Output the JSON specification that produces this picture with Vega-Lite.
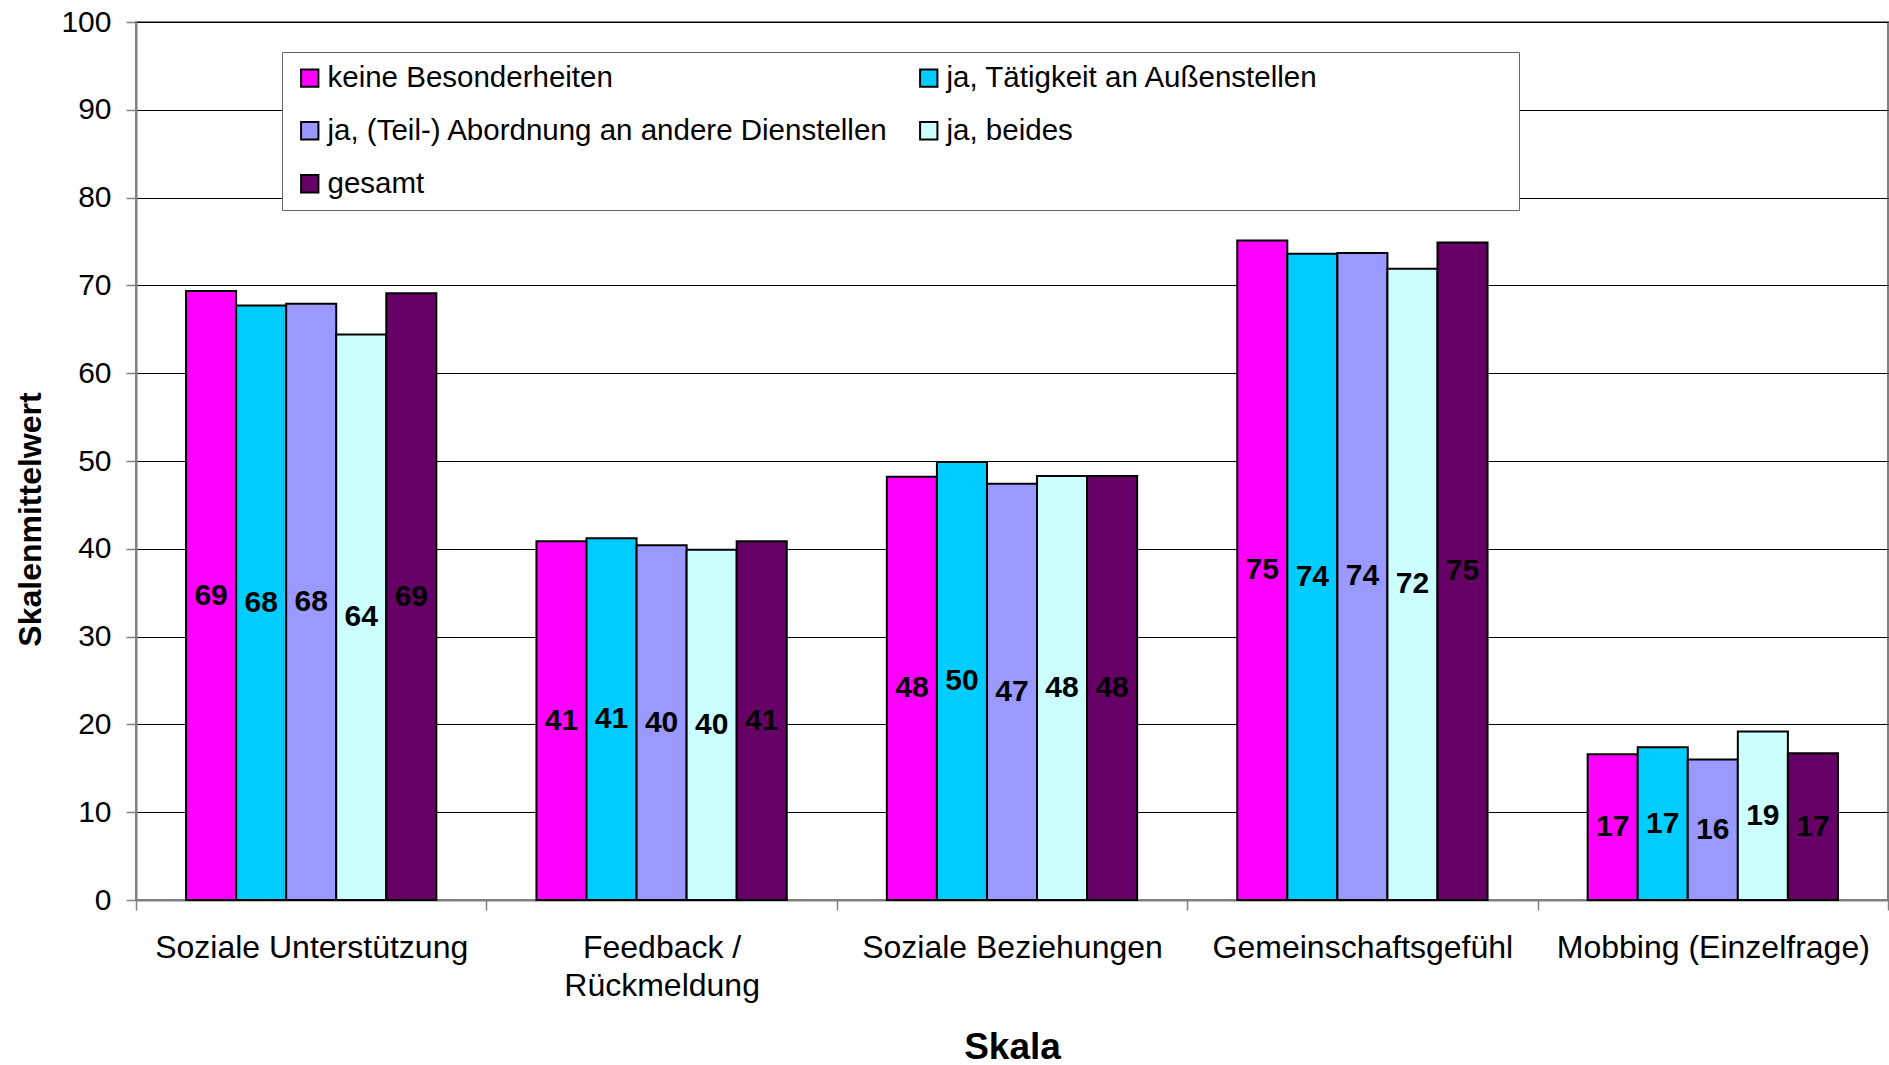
{
  "$schema": "https://vega.github.io/schema/vega-lite/v6.json",
  "width": 1752,
  "height": 878,
  "autosize": {"type": "none"},
  "padding": {"left": 136, "top": 22, "right": 1, "bottom": 165},
  "background": "white",
  "config": {"font": "Liberation Sans", "view": {"stroke": "#808080", "strokeWidth": 2}},
  "data": {"values": [
    {"skala": "Soziale Unterstützung", "gruppe": "keine Besonderheiten", "wert": 69.36},
    {"skala": "Soziale Unterstützung", "gruppe": "ja, Tätigkeit an Außenstellen", "wert": 67.7},
    {"skala": "Soziale Unterstützung", "gruppe": "ja, (Teil-) Abordnung an andere Dienstellen", "wert": 67.9},
    {"skala": "Soziale Unterstützung", "gruppe": "ja, beides", "wert": 64.4},
    {"skala": "Soziale Unterstützung", "gruppe": "gesamt", "wert": 69.1},
    {"skala": "Feedback / Rückmeldung", "gruppe": "keine Besonderheiten", "wert": 40.85},
    {"skala": "Feedback / Rückmeldung", "gruppe": "ja, Tätigkeit an Außenstellen", "wert": 41.2},
    {"skala": "Feedback / Rückmeldung", "gruppe": "ja, (Teil-) Abordnung an andere Dienstellen", "wert": 40.4},
    {"skala": "Feedback / Rückmeldung", "gruppe": "ja, beides", "wert": 39.9},
    {"skala": "Feedback / Rückmeldung", "gruppe": "gesamt", "wert": 40.85},
    {"skala": "Soziale Beziehungen", "gruppe": "keine Besonderheiten", "wert": 48.2},
    {"skala": "Soziale Beziehungen", "gruppe": "ja, Tätigkeit an Außenstellen", "wert": 49.9},
    {"skala": "Soziale Beziehungen", "gruppe": "ja, (Teil-) Abordnung an andere Dienstellen", "wert": 47.4},
    {"skala": "Soziale Beziehungen", "gruppe": "ja, beides", "wert": 48.3},
    {"skala": "Soziale Beziehungen", "gruppe": "gesamt", "wert": 48.3},
    {"skala": "Gemeinschaftsgefühl", "gruppe": "keine Besonderheiten", "wert": 75.1},
    {"skala": "Gemeinschaftsgefühl", "gruppe": "ja, Tätigkeit an Außenstellen", "wert": 73.6},
    {"skala": "Gemeinschaftsgefühl", "gruppe": "ja, (Teil-) Abordnung an andere Dienstellen", "wert": 73.7},
    {"skala": "Gemeinschaftsgefühl", "gruppe": "ja, beides", "wert": 71.9},
    {"skala": "Gemeinschaftsgefühl", "gruppe": "gesamt", "wert": 74.9},
    {"skala": "Mobbing (Einzelfrage)", "gruppe": "keine Besonderheiten", "wert": 16.6},
    {"skala": "Mobbing (Einzelfrage)", "gruppe": "ja, Tätigkeit an Außenstellen", "wert": 17.4},
    {"skala": "Mobbing (Einzelfrage)", "gruppe": "ja, (Teil-) Abordnung an andere Dienstellen", "wert": 16.0},
    {"skala": "Mobbing (Einzelfrage)", "gruppe": "ja, beides", "wert": 19.2},
    {"skala": "Mobbing (Einzelfrage)", "gruppe": "gesamt", "wert": 16.7}
  ]},
  "layer": [
    {
      "mark": {"type": "bar", "stroke": "black", "strokeWidth": 2},
      "encoding": {
        "x": {
          "field": "skala", "type": "nominal",
          "sort": ["Soziale Unterstützung", "Feedback / Rückmeldung", "Soziale Beziehungen", "Gemeinschaftsgefühl", "Mobbing (Einzelfrage)"],
          "scale": {"paddingInner": 0, "paddingOuter": 0},
          "axis": {
            "title": "Skala", "labelAngle": 0, "labelFontSize": 32, "labelColor": "black",
            "labelPadding": 22, "labelLineHeight": 38, "labelBaseline": "top", "labelLimit": 500, "labelOverlap": false,
            "labelExpr": "datum.value == 'Feedback / Rückmeldung' ? ['Feedback /', 'Rückmeldung'] : datum.label",
            "tickBand": "extent", "tickSize": 10, "tickColor": "#808080", "tickWidth": 1.5,
            "domainColor": "#808080", "domainWidth": 2,
            "titleFontSize": 37, "titleFontWeight": "bold", "titleColor": "black",
            "titleY": 158, "titleBaseline": "alphabetic"
          }
        },
        "xOffset": {
          "field": "gruppe", "type": "nominal",
          "sort": ["keine Besonderheiten", "ja, Tätigkeit an Außenstellen", "ja, (Teil-) Abordnung an andere Dienstellen", "ja, beides", "gesamt"],
          "scale": {"paddingInner": 0, "paddingOuter": 1}
        },
        "y": {
          "field": "wert", "type": "quantitative",
          "scale": {"domain": [0, 100], "nice": false},
          "axis": {
            "title": "Skalenmittelwert", "values": [0, 10, 20, 30, 40, 50, 60, 70, 80, 90, 100],
            "grid": true, "gridColor": "#000000", "gridWidth": 1, "gridOpacity": 1,
            "domainColor": "#808080", "domainWidth": 2, "tickColor": "#808080", "tickWidth": 1.5, "tickSize": 10,
            "labelFontSize": 30, "labelColor": "black", "labelPadding": 15,
            "titleFontSize": 32, "titleFontWeight": "bold", "titleColor": "black",
            "titleX": -106, "titleY": 497, "titleBaseline": "middle", "titleAlign": "center", "titleAngle": -90
          }
        },
        "color": {
          "field": "gruppe", "type": "nominal",
          "scale": {
            "domain": ["keine Besonderheiten", "ja, (Teil-) Abordnung an andere Dienstellen", "gesamt", "ja, Tätigkeit an Außenstellen", "ja, beides"],
            "range": ["#FF00FF", "#9999FF", "#660066", "#00CCFF", "#CCFFFF"]
          },
          "legend": {
            "title": null, "orient": "none", "legendX": 146, "legendY": 30,
            "columns": 2, "gridAlign": "all", "columnPadding": 23, "rowPadding": 22, "padding": 11,
            "strokeColor": "#666666", "fillColor": "white",
            "symbolType": "square", "symbolSize": 300, "symbolStrokeColor": "black", "symbolStrokeWidth": 2, "symbolOffset": 2,
            "labelFontSize": 29.5, "labelColor": "black", "labelOffset": 3, "labelLimit": 1000,
            "labelExpr": "datum.value == 'ja, Tätigkeit an Außenstellen' ? datum.label + '\u00a0\u00a0\u00a0\u00a0\u00a0\u00a0\u00a0\u00a0\u00a0\u00a0\u00a0\u00a0\u00a0\u00a0\u00a0\u00a0\u00a0\u00a0\u00a0\u00a0\u00a0\u00a0\u00a0\u200b' : datum.label"
          }
        }
      }
    },
    {
      "mark": {"type": "text", "fontSize": 30, "fontWeight": "bold", "fill": "black", "baseline": "middle"},
      "encoding": {
        "x": {"field": "skala", "type": "nominal", "sort": ["Soziale Unterstützung", "Feedback / Rückmeldung", "Soziale Beziehungen", "Gemeinschaftsgefühl", "Mobbing (Einzelfrage)"]},
        "xOffset": {"field": "gruppe", "type": "nominal", "sort": ["keine Besonderheiten", "ja, Tätigkeit an Außenstellen", "ja, (Teil-) Abordnung an andere Dienstellen", "ja, beides", "gesamt"]},
        "y": {"field": "wert", "type": "quantitative", "scale": {"domain": [0, 200], "nice": false}, "axis": null},
        "text": {"field": "wert", "type": "quantitative", "format": ".0f"}
      }
    }
  ],
  "resolve": {"scale": {"y": "independent"}}
}
